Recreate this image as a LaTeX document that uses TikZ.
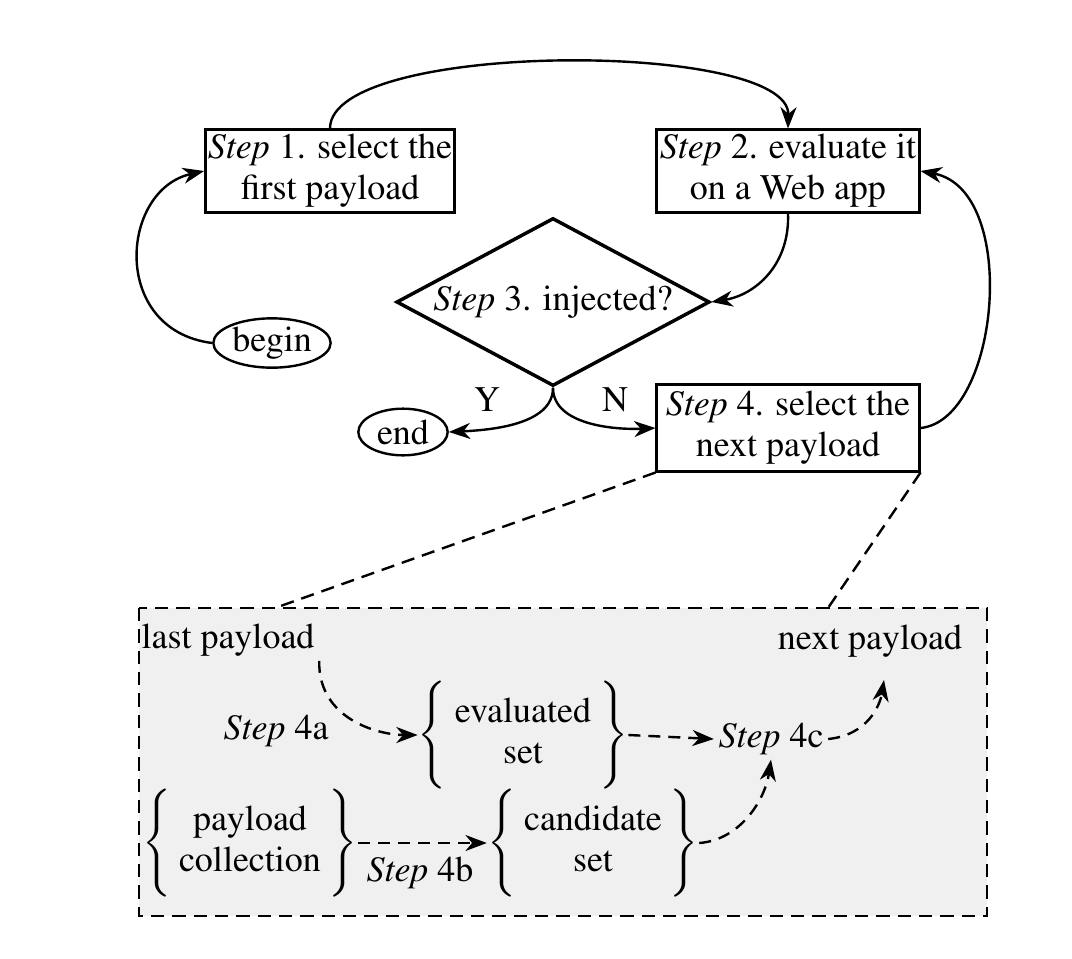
\documentclass[tikz,border=0pt]{standalone}
\usepackage[T1]{fontenc}
\usepackage{mathptmx}
\usetikzlibrary{shapes.geometric,arrows.meta}
\newcommand{\setstrut}{\rule[-33pt]{0pt}{78pt}}

\begin{document}
\begin{tikzpicture}[x=0.75pt,y=0.75pt,yscale=-1,xscale=1,
  every node/.style={font=\fontsize{27}{31}\selectfont},
  stepbox/.style={draw,line width=1.8pt,align=center,inner sep=0pt,minimum width=197pt,minimum height=62pt},
  decision/.style={diamond,draw,line width=2.6pt,inner sep=0pt,minimum width=235pt,minimum height=126pt},
  terminal/.style={ellipse,draw,line width=1.8pt,inner sep=1pt,minimum height=35pt},
  setgroup/.style={inner sep=0pt},
  arr/.style={line width=1.8pt,-{Stealth[length=16pt,width=12pt,inset=5pt]}},
  darr/.style={arr,dash pattern=on 9pt off 6pt}]
%set diagram size to the reference
\useasboundingbox (0,0) rectangle (1072,958);

%Shape: Zoom box
\draw [fill=gray!12,line width=2pt,dash pattern=on 10pt off 6pt] (139,608) rectangle (987,916) ;
\coordinate (z1) at (275,608);
\coordinate (z2) at (828,608);

% Step nodes
\node [stepbox,minimum width=187pt] (s1) at (330,171) {\textit{Step} 1. select the\\first payload};
\node [stepbox] (s2) at (788,171) {\textit{Step} 2. evaluate it\\on a Web app};
\node [decision,label={center:\textit{Step} 3. injected?}] (s3) at (553,302) {};
\node [stepbox,minimum height=65pt] (s4) at (788,428) {\textit{Step} 4. select the\\next payload};
\node [terminal,minimum width=88pt] (bg) at (272,343) {begin};
\node [terminal,minimum width=67pt] (nd) at (403,432) {end};

% Text Node
\node (y) at (487,400) {Y};
\node (n) at (615,400) {N};

%Curve Lines
\draw [arr] (s1.north) .. controls (330,40) and (790,40) .. (s2.north) ;
\draw [arr] (bg.west) .. controls (110,330) and (120,190) .. (s1.west) ;
\draw [arr] (s2.south) .. controls (790,265) and (755,295) .. (s3.east) ;
\draw [arr] (s4.east) .. controls (1000,420) and (1020,190) .. (s2.east) ;
\draw [arr] (s3.south) .. controls (553,425) and (490,430) .. (nd.east) ;
\draw [arr] (s3.south) .. controls (553,425) and (615,430) .. (s4.west) ;

%Dashed zoom lines
\draw [line width=1.8pt,dash pattern=on 10pt off 6pt] (s4.south west) -- (z1) ;
\draw [line width=1.8pt,dash pattern=on 10pt off 6pt] (s4.south east) -- (z2) ;

% Inside the zoom box
\node (lp) at (228,640) {last payload};
\node (np) at (870,641) {next payload};
\coordinate (npin) at (884,680);
\node (s4a) at (276,731) {\textit{Step} 4a};
\node (s4b) at (420,873) {\textit{Step} 4b};
\node (s4c) at (771,739) {\textit{Step} 4c};
\node [setgroup] (ev) at (523,735) {$\left\{\setstrut\begin{tabular}{c}evaluated\\set\end{tabular}\right\}$};
\node [setgroup] (pc) at (250,843) {$\left\{\setstrut\begin{tabular}{c}payload\\collection\end{tabular}\right\}$};
\node [setgroup] (cs) at (593,843) {$\left\{\setstrut\begin{tabular}{c}candidate\\set\end{tabular}\right\}$};

\draw [darr] (lp.south east) .. controls (318,720) and (380,735) .. (ev.west) ;
\draw [darr] (ev.east) -- (s4c.west) ;
\draw [darr] (pc.east) -- (cs.west) ;
\draw [darr] (cs.east) .. controls (740,840) and (765,800) .. (s4c.south) ;
\draw [darr] (s4c.east) .. controls (868,735) and (880,705) .. (npin) ;

\end{tikzpicture}
\end{document}
